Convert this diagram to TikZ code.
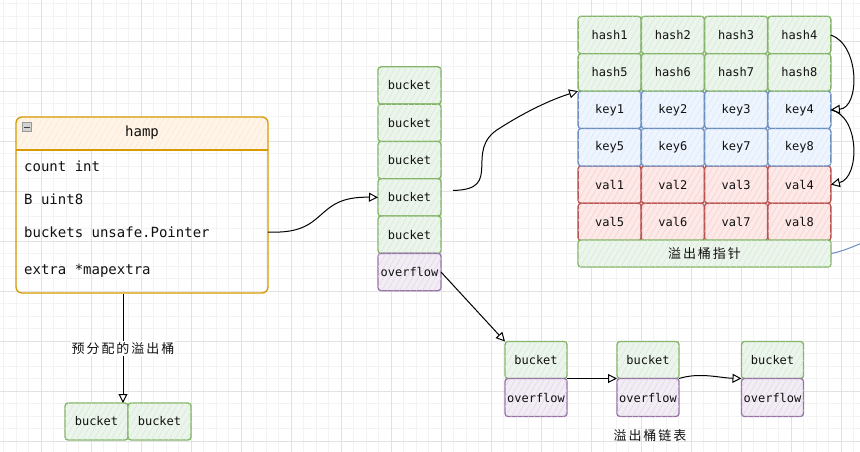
\documentclass[tikz,border=0pt]{standalone}
\usepackage{fontspec}
\setmonofont{DejaVu Sans Mono}
\newfontfamily\cjk[LetterSpace=15]{Noto Sans CJK SC}
\usetikzlibrary{positioning,arrows.meta,patterns.meta}
\definecolor{BucketGreen}{HTML}{82B366}
\definecolor{BucketFill}{HTML}{D5E8D4}
\definecolor{KeyBlue}{HTML}{6C8EBF}
\definecolor{KeyFill}{HTML}{DAE8FC}
\definecolor{ValRed}{HTML}{B85450}
\definecolor{ValFill}{HTML}{F8CECC}
\definecolor{FlowPurple}{HTML}{9673A6}
\definecolor{FlowFill}{HTML}{E1D5E7}
\definecolor{HampOrange}{HTML}{D79B00}
\definecolor{HampFill}{HTML}{FFE6CC}
\definecolor{GridMinor}{HTML}{F3F3F3}
\definecolor{GridMajor}{HTML}{E2E2E2}
\definecolor{InkText}{HTML}{111111}

\tikzset{
  sketch/.style={rounded corners=3pt, line width=1.3pt, inner sep=0pt, outer sep=0pt,
    text=InkText, font=\ttfamily\fontsize{12}{14}\selectfont},
  hatch/.style={fill=#1!45, postaction={pattern={Lines[angle=60,distance=5pt,line width=0.5pt]}, pattern color=#1}},
  greencell/.style={sketch, draw=BucketGreen, hatch=BucketFill},
  bluecell/.style={sketch, draw=KeyBlue, hatch=KeyFill},
  redcell/.style={sketch, draw=ValRed, hatch=ValFill},
  purplecell/.style={sketch, draw=FlowPurple, hatch=FlowFill},
  gridcell/.style={minimum width=63pt, minimum height=37.4pt},
  colcell/.style={minimum width=63pt, minimum height=37.3pt},
  field/.style={anchor=west, inner sep=0pt, text=InkText, font=\ttfamily\fontsize{14}{16}\selectfont},
  cjklabel/.style={inner sep=1pt, text=InkText, font=\cjk\fontsize{13}{15}\selectfont},
  arr/.style={-{Triangle[open,length=9pt,width=9pt]}, line width=1pt, black},
}

\begin{document}
\begin{tikzpicture}[x=1pt,y=-1pt]
\useasboundingbox (0,0) rectangle (860,452);
\fill[white] (0,0) rectangle (860,452);

% background grid
\foreach \x in {3.5,16,...,860} \draw[GridMinor, line width=0.6pt] (\x,0) -- (\x,452);
\foreach \y in {3.5,16,...,452} \draw[GridMinor, line width=0.6pt] (0,\y) -- (860,\y);
\foreach \x in {41,91,...,860} \draw[GridMajor, line width=0.7pt] (\x,0) -- (\x,452);
\foreach \y in {41,91,...,452} \draw[GridMajor, line width=0.7pt] (0,\y) -- (860,\y);

% hmap struct
\path[hatch=HampFill] (16,150) [rounded corners=6pt] -- (16,117) -- (268,117) [sharp corners] -- (268,150) -- cycle;
\node[draw=HampOrange, line width=1.3pt, rounded corners=6pt, outer sep=0pt, minimum width=252pt, minimum height=176pt] (hamp) at (142,205) {};
\draw[HampOrange, line width=1.2pt] (16,150) -- (268,150);
\node[draw=gray!80, fill=gray!35, minimum size=9pt, inner sep=0pt] (hampicon) at (27,127) {};
\draw[gray!50!black, line width=0.8pt] ([xshift=2pt]hampicon.west) -- ([xshift=-2pt]hampicon.east);
\node[inner sep=0pt, text=InkText, font=\ttfamily\fontsize{14}{16}\selectfont] (hamptitle) at (142,133) {hamp};
\node[field] (fcount) at (24,166) {count int};
\node[field] (fB) at (24,199) {B uint8};
\node[field] (fbuckets) at (24,232) {buckets unsafe.Pointer};
\node[field] (fextra) at (24,271) {extra *mapextra};

% bucket array
\node[greencell, colcell] (bkt1) at (409.5,85.5) {bucket};
\foreach \i [remember=\i as \j (initially 1)] in {2,...,5}
  \node[greencell, colcell, below=0pt of bkt\j] (bkt\i) {bucket};
\node[purplecell, colcell, below=0pt of bkt5] (ovf) {overflow};

% bmap layout
\foreach \n in {1,...,8} {
  \pgfmathtruncatemacro\col{mod(\n-1,4)}
  \pgfmathtruncatemacro\row{div(\n-1,4)}
  \node[greencell, gridcell] (hash\n) at (609.6+63.25*\col, 35+37.4*\row) {hash\n};
  \node[bluecell, gridcell] (key\n) at (609.6+63.25*\col, 109.8+37.4*\row) {key\n};
  \node[redcell, gridcell] (val\n) at (609.6+63.25*\col, 184.6+37.4*\row) {val\n};
}
\node[greencell, minimum width=253pt, minimum height=27pt, font=\cjk\fontsize{13}{15}\selectfont] (ptr) at (704.5,253.5) {溢出桶指针};
\coordinate (ptrout) at (862,243);
\draw[KeyBlue, line width=1pt] (ptr.east) .. controls (840,252) and (850,248) .. (ptrout);

% overflow chain
\node[greencell, minimum width=62pt, minimum height=37pt] (lb1) at (536,360) {bucket};
\node[purplecell, minimum width=62pt, minimum height=38pt, below=0pt of lb1] (lo1) {overflow};
\node[greencell, minimum width=62pt, minimum height=37pt] (lb2) at (648,360) {bucket};
\node[purplecell, minimum width=62pt, minimum height=38pt, below=0pt of lb2] (lo2) {overflow};
\node[greencell, minimum width=62pt, minimum height=37pt] (lb3) at (772.5,360) {bucket};
\node[purplecell, minimum width=62pt, minimum height=38pt, below=0pt of lb3] (lo3) {overflow};
\node[cjklabel] (chainlabel) at (650,436) {溢出桶链表};

% preallocated overflow buckets
\node[greencell, minimum width=63pt, minimum height=37pt] (pb1) at (96.5,421.5) {bucket};
\node[greencell, minimum width=63pt, minimum height=37pt, right=0pt of pb1] (pb2) {bucket};
\coordinate (pretop) at (123,294);
\coordinate (prebot) at (123,403);

% connectors
\coordinate (fbout) at (fbuckets.east -| hamp.east);
\draw[arr] (fbout) .. controls (330,235) and (312,196) .. (bkt4.west);
\coordinate (b4out) at ([xshift=12pt,yshift=7pt]bkt4.east);
\draw[arr] (b4out) .. controls (505,190) and (462,150) .. (500,128) .. controls (525,112) and (550,100) .. (key1.north west);
\draw[arr] (ovf.east) -- (lb1.north west);
\draw[arr] (lb1.south east) -- (lb2.south west);
\draw[arr] (lb2.south east) .. controls (700,372) and (720,378) .. (lb3.south west);
\draw[arr] (hash4.east) .. controls (860,45) and (860,108) .. (key4.east);
\draw[arr] (key4.east) .. controls (860,116) and (860,178) .. (val4.east);
\draw[arr] (pretop) -- node[cjklabel, fill=white] (prelabel) {预分配的溢出桶} (prebot);

\end{tikzpicture}
\end{document}
